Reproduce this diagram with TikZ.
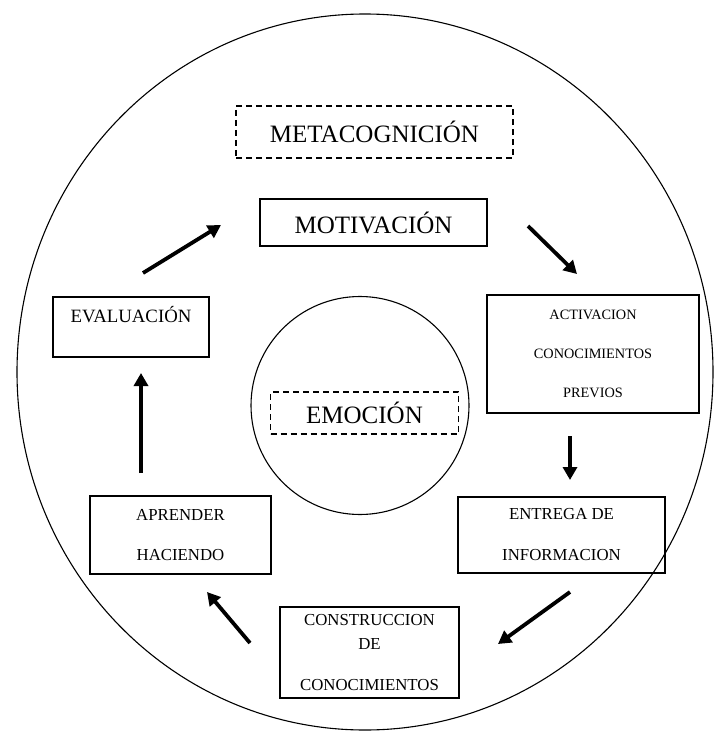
\documentclass[tikz,border=0pt]{standalone}
\usepackage{fontspec}
\setmainfont{Liberation Serif}
\usetikzlibrary{arrows.meta}
\begin{document}
\begin{tikzpicture}[x=1pt,y=-1pt,
  box/.style={draw, line width=1.3pt, inner sep=0pt},
  dbox/.style={draw, line width=1.8pt, dash pattern=on 6pt off 4pt, inner sep=0pt},
  flow/.style={line width=3.8pt, -{Triangle[length=13pt,width=14pt]}},
  big/.style={font=\fontsize{25}{29}\selectfont},
  sml/.style={font=\fontsize{14.3}{39}\selectfont}]
\useasboundingbox (0,0) rectangle (715,733);
% outer and inner circles
\draw[line width=1.1pt] (365,372) ellipse [x radius=348pt, y radius=358pt];
\node[draw, circle, line width=1.1pt, minimum size=218pt, inner sep=0pt] (inner) at (360,405.5) {};
% boxes
\node[dbox, font=\fontsize{25}{29}\selectfont, minimum width=277pt, minimum height=52pt] (meta) at (374.5,132) {METACOGNICIÓN};
\node[box, big, minimum width=227pt, minimum height=47pt] (mot) at (373.5,222.5) {MOTIVACIÓN};
\node[box, sml, align=center, minimum width=212pt, minimum height=118pt] (act) at (593,354) {ACTIVACION\\CONOCIMIENTOS\\PREVIOS};
\node[box, minimum width=156pt, minimum height=60pt] (eval) at (131,327) {};
\node[font=\fontsize{18.8}{22}\selectfont, inner sep=0pt] (evaltext) at (131,315) {EVALUACIÓN};
\node[dbox, big, minimum width=188pt, minimum height=42pt] (emo) at (364.5,413) {EMOCIÓN};
\node[box, font=\fontsize{16.8}{41}\selectfont, align=center, minimum width=207pt, minimum height=76pt] (ent) at (561.5,535) {ENTREGA DE\\INFORMACION};
\node[box, font=\fontsize{16.8}{40}\selectfont, align=center, minimum width=181pt, minimum height=78pt] (apr) at (180.5,535) {APRENDER\\HACIENDO};
\node[box, font=\fontsize{16.8}{24}\selectfont, align=center, minimum width=179pt, minimum height=91pt] (con) at (369.5,652.5) {CONSTRUCCION\\DE\\[17pt]CONOCIMIENTOS};
% arrow end points
\coordinate (a1s) at (143,273); \coordinate (a1e) at (221,225);
\coordinate (a2s) at (528,226); \coordinate (a2e) at (577,274);
\coordinate (a3s) at (570,436); \coordinate (a3e) at (570,480);
\coordinate (a4s) at (570,592); \coordinate (a4e) at (498,644);
\coordinate (a5s) at (250,643); \coordinate (a5e) at (207,592);
\coordinate (a6s) at (141,473); \coordinate (a6e) at (141,373);
\draw[flow] (a1s) -- (a1e);
\draw[flow] (a2s) -- (a2e);
\draw[flow] (a3s) -- (a3e);
\draw[flow] (a4s) -- (a4e);
\draw[flow] (a5s) -- (a5e);
\draw[flow] (a6s) -- (a6e);
\end{tikzpicture}
\end{document}
